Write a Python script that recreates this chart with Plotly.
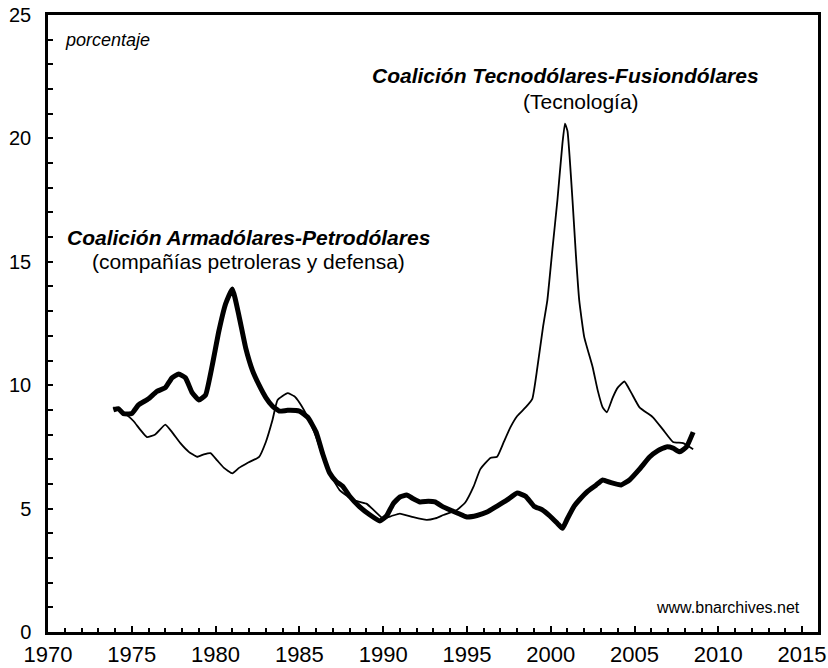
import plotly.graph_objects as go

# Coalición Armadólares-Petrodólares (thick line)
years_armas = [1973.9, 1974.2, 1974.5, 1975.0, 1975.4, 1976.0, 1976.5, 1977.0, 1977.4, 1977.8,
               1978.2, 1978.6, 1979.0, 1979.4, 1979.8, 1980.2, 1980.6, 1981.0, 1981.4, 1981.8,
               1982.2, 1982.6, 1983.0, 1983.4, 1983.8, 1984.3, 1985.0, 1985.5, 1986.0, 1986.4,
               1986.8, 1987.2, 1987.6, 1988.0, 1988.6, 1989.2, 1989.8, 1990.2, 1990.6, 1991.0,
               1991.4, 1991.8, 1992.2, 1992.7, 1993.1, 1993.5, 1994.0, 1994.5, 1995.0, 1995.6,
               1996.2, 1996.8, 1997.4, 1998.0, 1998.5, 1999.0, 1999.5, 1999.95, 2000.4, 2000.7,
               2001.0, 2001.4, 2001.7, 2002.2, 2002.7, 2003.1, 2003.6, 2004.2, 2004.7, 2005.3,
               2005.9, 2006.4, 2006.9, 2007.3, 2007.7, 2008.1, 2008.5]
vals_armas = [9.0, 9.05, 8.85, 8.85, 9.2, 9.45, 9.75, 9.9, 10.3, 10.45,
              10.3, 9.7, 9.4, 9.6, 10.8, 12.2, 13.3, 13.9, 12.8, 11.5,
              10.6, 10.0, 9.5, 9.15, 8.95, 8.98, 8.95, 8.7, 8.1, 7.2,
              6.45, 6.1, 5.9, 5.5, 5.07, 4.75, 4.5, 4.7, 5.2, 5.47,
              5.55, 5.4, 5.27, 5.3, 5.27, 5.1, 4.94, 4.8, 4.66, 4.72,
              4.86, 5.1, 5.35, 5.63, 5.5, 5.1, 4.95, 4.7, 4.4, 4.2,
              4.6, 5.1, 5.35, 5.7, 5.95, 6.16, 6.05, 5.96, 6.16, 6.6,
              7.09, 7.35, 7.5, 7.45, 7.3, 7.5, 8.1]

# Coalición Tecnodólares-Fusiondólares (thin line)
years_tecno = [1973.9, 1974.3, 1974.7, 1975.1, 1975.5, 1975.9, 1976.4, 1977.0, 1977.4, 1977.9,
               1978.4, 1978.9, 1979.3, 1979.7, 1980.1, 1980.5, 1981.0, 1981.4, 1981.9, 1982.6,
               1983.0, 1983.4, 1983.7, 1984.3, 1984.7, 1985.0, 1985.5, 1986.0, 1986.4, 1986.8,
               1987.4, 1988.2, 1989.0, 1989.5, 1990.0, 1990.5, 1991.0, 1991.8, 1992.6, 1993.1,
               1993.6, 1994.4, 1994.9, 1995.4, 1995.8, 1996.4, 1996.8, 1997.2, 1997.6, 1998.0,
               1998.5, 1998.9, 1999.2, 1999.55, 1999.8, 2000.1, 2000.4, 2000.7, 2000.85, 2001.0,
               2001.3, 2001.5, 2001.7, 2002.0, 2002.5, 2002.8, 2003.1, 2003.35, 2003.7, 2004.0,
               2004.4, 2004.8, 2005.3, 2006.1, 2006.7, 2007.3, 2007.9, 2008.5]
vals_tecno = [9.1, 9.0, 8.8, 8.55, 8.2, 7.9, 8.0, 8.4, 8.1, 7.65,
              7.3, 7.1, 7.2, 7.25, 6.95, 6.65, 6.43, 6.65, 6.85, 7.1,
              7.7, 8.6, 9.4, 9.68, 9.55, 9.3, 8.7, 7.9, 7.1, 6.45,
              5.75, 5.35, 5.2, 4.9, 4.6, 4.7, 4.8, 4.65, 4.54, 4.6,
              4.74, 4.94, 5.25, 5.9, 6.6, 7.05, 7.1, 7.7, 8.3, 8.75,
              9.1, 9.45, 10.7, 12.4, 13.45, 15.5, 17.5, 19.8, 20.6, 20.3,
              17.5, 15.3, 13.45, 11.95, 10.74, 9.8, 9.1, 8.9, 9.5, 9.9,
              10.15, 9.7, 9.1, 8.7, 8.2, 7.7, 7.65, 7.4]

x_ticks = [1970, 1975, 1980, 1985, 1990, 1995, 2000, 2005, 2010, 2015]
y_ticks = [0, 5, 10, 15, 20, 25]

FONT = "Arial, Liberation Sans, sans-serif"

fig = go.Figure()
fig.add_trace(go.Scatter(x=years_tecno, y=vals_tecno, mode="lines",
                         line=dict(color="black", width=1.8, shape="spline", smoothing=0.4),
                         showlegend=False, hoverinfo="skip"))
fig.add_trace(go.Scatter(x=years_armas, y=vals_armas, mode="lines",
                         line=dict(color="black", width=5, shape="spline", smoothing=0.4),
                         showlegend=False, hoverinfo="skip"))

anns = [
    dict(x=1970.9, y=24.0, text="<i>porcentaje</i>", xanchor="left", yanchor="middle",
         font=dict(size=18)),
    dict(x=1981.95, y=16.0, text="<b><i>Coalición Armadólares-Petrodólares</i></b>",
         xanchor="center", yanchor="middle", font=dict(size=21)),
    dict(x=1981.95, y=15.0, text="(compañías petroleras y defensa)",
         xanchor="center", yanchor="middle", font=dict(size=21)),
    dict(x=2000.9, y=22.53, text="<b><i>Coalición Tecnodólares-Fusiondólares</i></b>",
         xanchor="center", yanchor="middle", font=dict(size=21)),
    dict(x=2001.8, y=21.5, text="(Tecnología)",
         xanchor="center", yanchor="middle", font=dict(size=21)),
    dict(x=2015.0, y=1.0, text="www.bnarchives.net", xanchor="right", yanchor="middle",
         font=dict(size=16)),
]
for a in anns:
    a.update(showarrow=False, xref="x", yref="y")
    a["font"].update(family=FONT, color="black")
    fig.add_annotation(**a)

fig.update_layout(
    width=828, height=668,
    margin=dict(l=48, r=10, t=15, b=36, autoexpand=False),
    plot_bgcolor="white", paper_bgcolor="white",
    font=dict(family=FONT, color="black", size=22),
)
fig.update_xaxes(range=[1970, 2015.95], tickvals=x_ticks, ticktext=[str(v) for v in x_ticks],
                 automargin=False, ticklabeloverflow="allow",
                 showgrid=False, zeroline=False, showline=True, linecolor="black", linewidth=2.5,
                 mirror=True, ticks="inside", ticklen=6, tickwidth=2, tickcolor="black",
                 minor=dict(ticks="inside", dtick=1, tick0=1970, ticklen=4, tickwidth=2,
                            tickcolor="black", showgrid=False),
                 tickfont=dict(size=22), ticklabelstandoff=1)
fig.update_yaxes(range=[0, 25], tickvals=y_ticks, ticktext=[str(v) for v in y_ticks],
                 automargin=False, ticklabeloverflow="allow",
                 showgrid=False, zeroline=False, showline=True, linecolor="black", linewidth=2.5,
                 mirror=True, ticks="inside", ticklen=5, tickwidth=2, tickcolor="black",
                 minor=dict(ticks="inside", dtick=1, tick0=0, ticklen=5, tickwidth=2,
                            tickcolor="black", showgrid=False),
                 tickfont=dict(size=20), ticklabelstandoff=10)

# remove the default 8px page margin so the figure fills the window exactly
fig.write_html("out.html", config={"displayModeBar": False},
               post_script="document.body.style.margin='0';document.body.style.overflow='hidden';")
